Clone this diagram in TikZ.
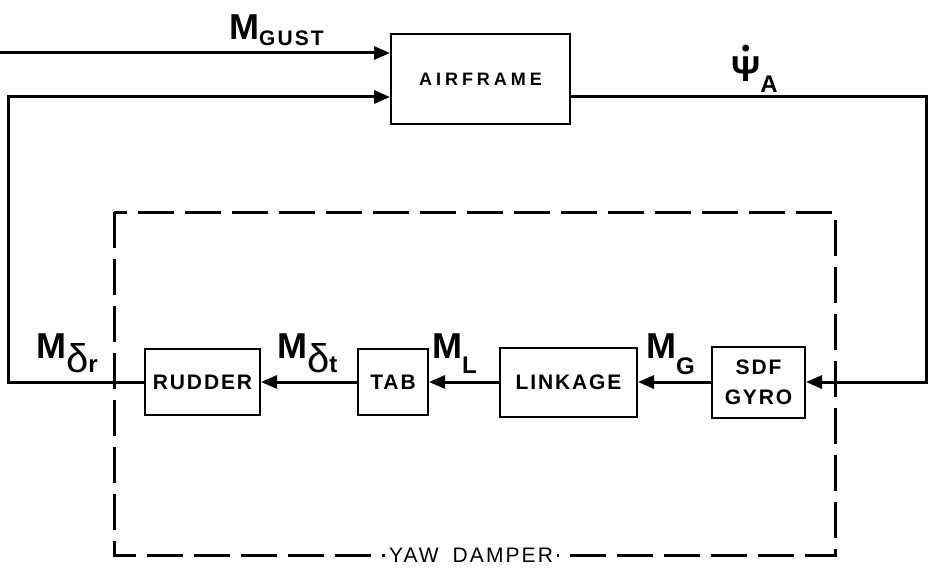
\documentclass[tikz,border=0pt]{standalone}
\usepackage{fontspec}
\setmainfont{Liberation Sans}
\usetikzlibrary{arrows.meta,positioning}
\newfontfamily\boxfam{Liberation Sans}[LetterSpace=9]
\newfontfamily\widefam{Liberation Sans}[LetterSpace=22]
\newfontfamily\subfam{Liberation Sans}[LetterSpace=10]
\newcommand{\boxfont}{\boxfam\bfseries\fontsize{21}{30}\selectfont}
\newcommand{\bigfont}{\bfseries\fontsize{36}{40}\selectfont}
\newcommand{\subfont}{\subfam\bfseries\fontsize{24}{26}\selectfont}
\newcommand{\deltafont}{\fontsize{40}{40}\selectfont}
\newcommand{\sigM}[2]{{\bigfont M}\raisebox{#1}{\subfont #2}}
\newcommand{\psidot}{\ooalign{\hfil\raisebox{25pt}{\fontsize{24}{24}\selectfont •}\hfil\cr Ψ\cr}}

\begin{document}
\begin{tikzpicture}[x=1pt,y=-1pt,
    every node/.style={inner sep=0pt},
    block/.style={draw,line width=2pt,align=center,font=\boxfont,minimum height=66pt},
    sig/.style={line width=3pt},
    arr/.style={sig,-{Triangle[length=16pt,width=13pt]}},
    damper/.style={line width=3pt,dash pattern=on 36pt off 11pt},
    siglabel/.style={anchor=base west}
  ]
  \useasboundingbox (0,0) rectangle (928,567);

  % blocks
  \node[block,minimum width=179pt,minimum height=90pt,font=\widefam\bfseries\fontsize{18}{20}\selectfont] (airframe) at (480.5,79) {AIRFRAME};
  \node[block,minimum width=115pt] (rudder) at (202.5,382) {RUDDER};
  \node[block,minimum width=70pt] (tab) at (393,382) {TAB};
  \node[block,minimum width=137pt,minimum height=69pt] (linkage) at (568.5,382) {LINKAGE};
  \node[block,minimum width=93pt,minimum height=71pt] (gyro) at (758.5,382) {SDF\\GYRO};

  % yaw damper boundary
  \coordinate (dtl) at (114,212);
  \coordinate (dbr) at (835,555);
  \draw[damper] (dtl) rectangle (dbr);
  \node[fill=white,inner xsep=4pt,inner ysep=0pt,font=\subfam\fontsize{21}{22}\selectfont,anchor=base] (yawdamper) at (471,562) {YAW\hspace{6pt} DAMPER};

  % signal paths
  \coordinate (gustin) at (0,53);
  \coordinate (fbleft) at (8,97);
  \coordinate (outright) at (926,97);
  \draw[arr] (gustin) -- (gustin -| airframe.west);
  \draw[arr] (rudder.west) -| (fbleft) -- (fbleft -| airframe.west);
  \draw[arr] (airframe.east |- outright) -- (outright) |- (gyro.east);
  \draw[arr] (gyro.west) -- (linkage.east);
  \draw[arr] (linkage.west) -- (tab.east);
  \draw[arr] (tab.west) -- (rudder.east);

  % labels
  \node[siglabel] (mgust) at (229,40) {{\bigfont M}\raisebox{-6pt}{\subfam\bfseries\fontsize{21}{22}\selectfont GUST}};
  \node[siglabel,font=\bigfont] (psia) at (731,82) {\psidot\raisebox{-11pt}{\subfont A}};
  \node[siglabel] (mdr) at (36,358) {{\bigfont M}\raisebox{-14pt}{\deltafont δ}\raisebox{-14pt}{\subfont r}};
  \node[siglabel] (mdt) at (277,358) {{\bigfont M}\raisebox{-14pt}{\deltafont δ}\raisebox{-14pt}{\subfont t}};
  \node[siglabel] (ml) at (432,358) {\sigM{-15pt}{L}};
  \node[siglabel] (mg) at (646,358) {\sigM{-16pt}{G}};
\end{tikzpicture}
\end{document}
